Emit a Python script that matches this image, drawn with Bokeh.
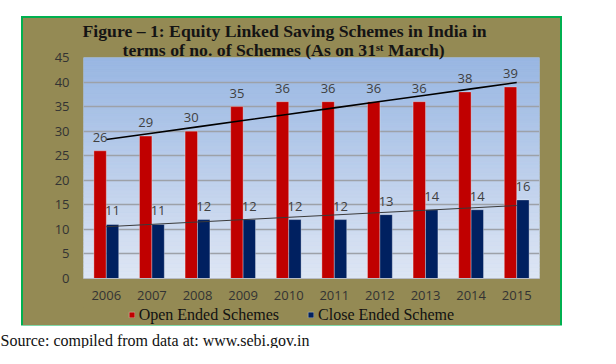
import numpy as np
from bokeh.plotting import figure
from bokeh.layouts import column
from bokeh.models import (Label, Legend, LegendItem, FixedTicker, Title,
                          ColumnDataSource, Range1d, FactorRange)
from bokeh.transform import dodge
from bokeh.embed import file_html
from bokeh.resources import INLINE
from bokeh.core.properties import value

# ---------------- data ----------------
years = ["2006", "2007", "2008", "2009", "2010", "2011", "2012", "2013", "2014", "2015"]
open_ended = [26, 29, 30, 35, 36, 36, 36, 36, 38, 39]
close_ended = [11, 11, 12, 12, 12, 12, 13, 14, 14, 16]
y_ticks = [0, 5, 10, 15, 20, 25, 30, 35, 40, 45]

title_line1 = "Figure \u2013 1: Equity Linked Saving Schemes in India in"
title_line2 = "terms of no. of Schemes (As on 31\u02e2\u1d57 March)"
source_text = "Source: compiled from data at: www.sebi.gov.in"
series_names = ["Open Ended Schemes", "Close Ended Scheme"]

# ---------------- styles ----------------
TAN = "#948A54"
RED = "#C00000"
NAVY = "#002060"
GREEN = "#00B050"
NUM_FONT = "Open Sans"
SERIF = "Liberation Serif"

BOX_W = 537
MAIN_H, LEG_H, SRC_H = 289, 18, 23


def bare(fig):
    fig.xgrid.visible = False
    fig.ygrid.visible = False
    return fig


p = figure(width=BOX_W, height=MAIN_H, x_range=FactorRange(*years), y_range=Range1d(0, 45),
           output_backend="svg", toolbar_location=None, title=None,
           min_border_left=60, min_border_right=21, min_border_top=39, min_border_bottom=29,
           border_fill_color=TAN, outline_line_color=None, background_fill_color="#BCCFEA")

# plot-area vertical gradient (background decoration)
n = 60
edges = np.linspace(0, 45, n + 1)
top_rgb = np.array([152, 182, 226])
bot_rgb = np.array([222, 230, 244])
mids = (edges[:-1] + edges[1:]) / 2 / 45
cols = ["#%02x%02x%02x" % tuple(int(round(v)) for v in bot_rgb + (top_rgb - bot_rgb) * m)
        for m in mids]
p.quad(left=0, right=len(years), bottom=edges[:-1], top=edges[1:],
       fill_color=cols, line_color=cols, line_width=0.6, level="image")

# grid & axes
p.xgrid.grid_line_color = None
p.ygrid.ticker = FixedTicker(ticks=y_ticks)
p.ygrid.grid_line_color = "#9DA1A8"
p.ygrid.grid_line_width = 1.6

p.yaxis.ticker = FixedTicker(ticks=y_ticks)
p.yaxis.axis_line_color = None
p.yaxis.major_label_standoff = 14
p.xaxis.axis_line_color = "#B8BCC4"
p.xaxis.major_label_standoff = 12
for ax in (p.xaxis, p.yaxis):
    ax.major_tick_line_color = None
    ax.minor_tick_line_color = None
    ax.major_tick_out = 0
    ax.major_tick_in = 0
    ax.major_label_text_font = NUM_FONT
    ax.major_label_text_font_size = "13px"
    ax.major_label_text_color = "#333333"

# bars
src = ColumnDataSource(dict(year=years, open=open_ended, close=close_ended,
                            open_txt=[str(v) for v in open_ended],
                            close_txt=[str(v) for v in close_ended]))
off = 0.136
bw = 0.272
bar_kw = dict(width=bw, source=src, line_color="white", line_alpha=0.3, line_width=1)
p.vbar(x=dodge("year", -off, range=p.x_range), top="open", fill_color=RED, **bar_kw)
p.vbar(x=dodge("year", off, range=p.x_range), top="close", fill_color=NAVY, **bar_kw)

# linear trend lines (fitted from the data)
xs = np.arange(len(years))
a1, b1 = np.polyfit(xs, open_ended, 1)
a2, b2 = np.polyfit(xs, close_ended, 1)
p.line(x=years, y=list(a1 * xs + b1), line_color="black", line_width=1.6)
p.line(x=years, y=list(a2 * xs + b2), line_color="#3A3A3A", line_width=1.0)

# data labels
for col, txt, dx in (("open", "open_txt", -off), ("close", "close_txt", off)):
    p.text(x=dodge("year", dx, range=p.x_range), y=col, text=txt, source=src,
           text_align="center", text_baseline="alphabetic", y_offset=-13.5,
           text_font=value(NUM_FONT), text_font_size="13px", text_color="#404040")

# two-line title (second line added first so it sits next to the plot)
for txt, off_px, stand in ((title_line2, 39, -4), (title_line1, -1, -2)):
    p.add_layout(Title(text=txt, align="left", offset=off_px, standoff=stand,
                       text_font=SERIF, text_font_style="bold", text_font_size="17.7px",
                       text_color="#141414"), "above")

# legend strip (tan) below the plot; its renderers share the bar data but sit out of view
pl = bare(figure(width=BOX_W, height=LEG_H, x_range=p.x_range, y_range=Range1d(1000, 1001),
                 output_backend="svg", toolbar_location=None, title=None,
                 x_axis_location=None, y_axis_location=None,
                 min_border_left=0, min_border_right=0, min_border_top=0, min_border_bottom=0,
                 border_fill_color=TAN, background_fill_color=TAN, outline_line_color=None))
g_open = pl.vbar(x=dodge("year", -off, range=pl.x_range), top="open", fill_color=RED, **bar_kw)
g_close = pl.vbar(x=dodge("year", off, range=pl.x_range), top="close", fill_color=NAVY, **bar_kw)
legend = Legend(items=[LegendItem(label=series_names[0], renderers=[g_open]),
                       LegendItem(label=series_names[1], renderers=[g_close])],
                orientation="horizontal", location=(44.7, 1.4),
                glyph_width=7, glyph_height=7, label_standoff=4, spacing=28,
                padding=0, margin=0, border_line_color=None, background_fill_alpha=0,
                label_text_font=SERIF, label_text_font_size="16px",
                label_text_color="#111111", label_height=14)
pl.add_layout(legend, "center")

box = column(p, pl, spacing=0, margin=(18, 0, 0, 23),
             styles={"outline": "2px solid " + GREEN, "background-color": TAN})

# source line under the chart box
ps = bare(figure(width=600, height=SRC_H, x_range=Range1d(0, 600), y_range=Range1d(0, SRC_H),
                 output_backend="svg", toolbar_location=None, title=None,
                 x_axis_location=None, y_axis_location=None,
                 min_border_left=0, min_border_right=0, min_border_top=0, min_border_bottom=0,
                 border_fill_color="white", background_fill_color="white",
                 outline_line_color=None))
ps.add_layout(Label(x=0, y=8, text=source_text, text_align="left",
                    text_baseline="alphabetic", text_font=SERIF, text_font_size="16px",
                    text_color="#111111"))

layout = column(box, ps, spacing=0)
open("out.html", "w").write(file_html(layout, INLINE))
